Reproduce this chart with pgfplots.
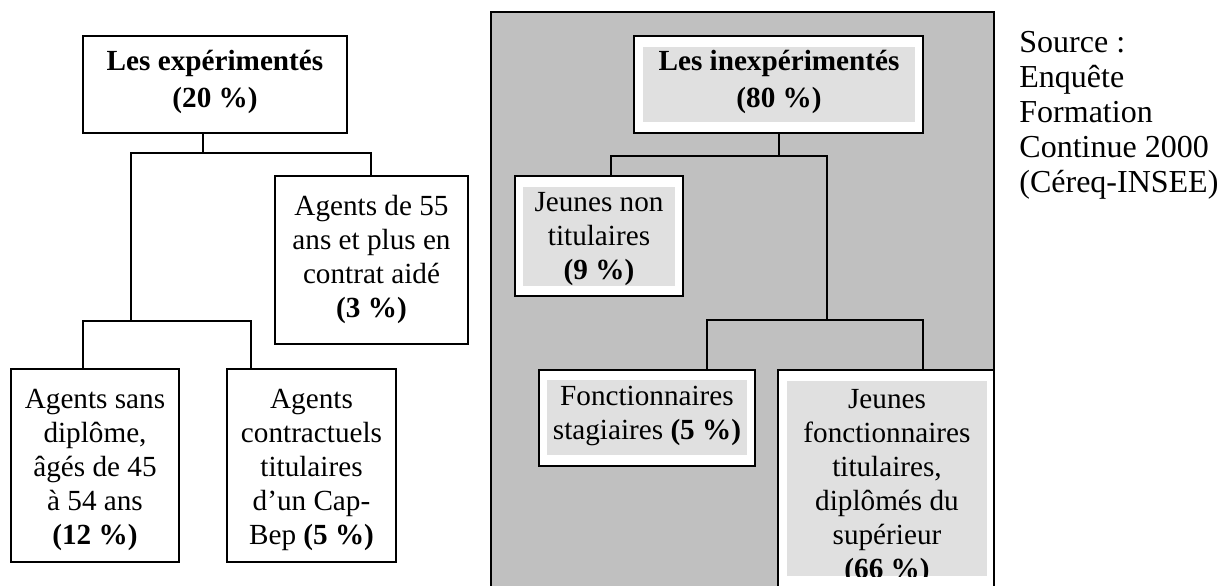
\documentclass[border=0pt]{standalone}
\usepackage{pgfplots}
\pgfplotsset{compat=1.18}
\usepackage{fontspec}
\setmainfont{Liberation Serif}
\definecolor{panelgray}{HTML}{C0C0C0}
\definecolor{innergray}{HTML}{E0E0E0}
\tikzset{lbl/.style={font=\fontsize{14.6}{17}\selectfont, align=center, inner sep=0pt},
         blbl/.style={font=\fontsize{14.6}{18.5}\selectfont\bfseries, align=center, inner sep=0pt}}
\newcommand{\boxrect}[5]{% x1 y1 x2 y2 style
  \addplot[#5] coordinates {(#1,#2) (#3,#2) (#3,#4) (#1,#4)} -- cycle;}
\begin{document}
\begin{tikzpicture}
\begin{axis}[
  scale only axis, width=611pt, height=292.5pt,
  xmin=0, xmax=1222, ymin=0, ymax=585, y dir=reverse,
  hide axis, no markers,
]
\path (rel axis cs:0,0) rectangle (rel axis cs:1,1);
% panel
\boxrect{491}{12}{994}{600}{draw=black, fill=panelgray, line width=1pt}
% connectors left
\addplot[black, line width=1pt] coordinates {(203,133) (203,153)};
\addplot[black, line width=1pt] coordinates {(131,321) (131,153) (371,153) (371,176)};
\addplot[black, line width=1pt] coordinates {(83,369) (83,321) (251,321) (251,369)};
% connectors right
\addplot[black, line width=1pt] coordinates {(779,133) (779,156)};
\addplot[black, line width=1pt] coordinates {(611,176) (611,156) (827,156) (827,320)};
\addplot[black, line width=1pt] coordinates {(707,370) (707,320) (923,320) (923,370)};
% left boxes
\boxrect{83}{36}{347}{133}{draw=black, fill=white, line width=1pt}
\boxrect{275}{176}{468}{344}{draw=black, fill=white, line width=1pt}
\boxrect{11}{369}{179}{562}{draw=black, fill=white, line width=1pt}
\boxrect{227}{369}{396}{562}{draw=black, fill=white, line width=1pt}
% right boxes
\boxrect{634}{36}{923}{133}{draw=black, fill=white, line width=1pt}
\boxrect{643}{47}{915}{122}{draw=none, fill=innergray}
\boxrect{515}{176}{683}{296}{draw=black, fill=white, line width=1pt}
\boxrect{523}{187}{675}{286}{draw=none, fill=innergray}
\boxrect{539}{370}{755}{466}{draw=black, fill=white, line width=1pt}
\boxrect{547}{380}{747}{455}{draw=none, fill=innergray}
\boxrect{778}{370}{994}{600}{draw=black, fill=white, line width=1pt}
\boxrect{787}{381}{987}{576}{draw=none, fill=innergray}
% texts
\node[blbl] at (axis cs:215,82) {Les expérimentés\\(20~\%)};
\node[lbl] at (axis cs:371.5,259) {Agents de 55\\ans et plus en\\contrat aidé\\\textbf{(3~\%)}};
\node[lbl] at (axis cs:95,470) {Agents sans\\diplôme,\\âgés de 45\\à 54 ans\\\textbf{(12~\%)}};
\node[lbl] at (axis cs:311.5,470) {Agents\\contractuels\\titulaires\\d’un Cap-\\Bep \textbf{(5~\%)}};
\node[blbl] at (axis cs:779,82) {Les inexpérimentés\\(80~\%)};
\node[lbl] at (axis cs:599,239) {Jeunes non\\titulaires\\\textbf{(9~\%)}};
\node[lbl] at (axis cs:647,416) {Fonctionnaires\\stagiaires \textbf{(5~\%)}};
\begin{scope}
\clip (axis cs:787,381) rectangle (axis cs:987,576);
\node[lbl] at (axis cs:887,487) {Jeunes\\fonctionnaires\\titulaires,\\diplômés du\\supérieur\\\textbf{(66~\%)}};
\end{scope}
\node[anchor=west, align=left, inner sep=0pt, font=\fontsize{16}{17.5}\selectfont] at (axis cs:1019,115) {Source~:\\Enquête\\Formation\\Continue 2000\\(Céreq-INSEE)};
\end{axis}
\end{tikzpicture}
\end{document}
